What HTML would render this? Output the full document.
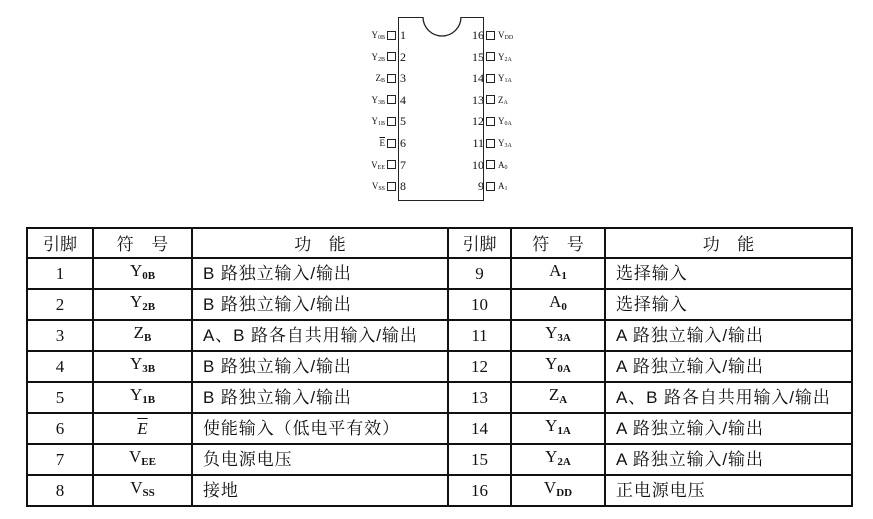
<!DOCTYPE html>
<html><head><meta charset="utf-8"><style>
body{margin:0;width:873px;height:519px;background:#fff;position:relative;overflow:hidden;font-family:"Liberation Serif","Noto Serif CJK SC",serif;color:#111}
.a{position:absolute}
.chip{left:398px;top:17px;width:86px;height:184px;border:1.3px solid #222;box-sizing:border-box}
.sq{width:9px;height:9px;border:1px solid #222;box-sizing:border-box;background:#fff}
.pn{font-size:12px;line-height:12px}
.lb{font-size:9px;line-height:10px}
.lb sub{font-size:6px;vertical-align:-1px;font-weight:normal}
table{position:absolute;left:26px;top:227px;border-collapse:collapse;font-size:17px;table-layout:fixed}
tr{height:31px}
tr.hd{height:30px}
td{border:2px solid #111;padding:0;text-align:center;line-height:18px;overflow:hidden;white-space:nowrap}
td.f{text-align:left;padding-left:10px;font-family:"Liberation Sans","Noto Serif CJK SC",serif;font-size:17px;letter-spacing:0.9px}
td.h{font-family:"Noto Serif CJK SC",serif;font-size:17px}
sub{font-size:11px;vertical-align:-3px;font-weight:bold}
</style></head><body>
<div class="a chip"></div>
<svg class="a" style="left:420px;top:15px" width="44" height="26"><path d="M3 2 A19 19 0 0 0 41 2" fill="#fff" stroke="#222" stroke-width="1.3"/><rect x="4" y="0" width="36" height="2" fill="#fff"/></svg>
<div id="pins"></div>
<script>
var L=[["Y<sub>0B</sub>",1],["Y<sub>2B</sub>",2],["Z<sub>B</sub>",3],["Y<sub>3B</sub>",4],["Y<sub>1B</sub>",5],["<span style='text-decoration:overline'>E</span>",6],["V<sub>EE</sub>",7],["V<sub>SS</sub>",8]];
var R=[["V<sub>DD</sub>",16],["Y<sub>2A</sub>",15],["Y<sub>1A</sub>",14],["Z<sub>A</sub>",13],["Y<sub>0A</sub>",12],["Y<sub>3A</sub>",11],["A<sub>0</sub>",10],["A<sub>1</sub>",9]];
var h="";
for(var i=0;i<8;i++){var y=35+i*21.6;
h+='<div class="a sq" style="left:387px;top:'+(y-4.5)+'px"></div>';
h+='<div class="a pn" style="left:400px;top:'+(y-6)+'px">'+L[i][1]+'</div>';
h+='<div class="a lb" style="right:'+(873-385)+'px;top:'+(y-5)+'px">'+L[i][0]+'</div>';
h+='<div class="a sq" style="left:486px;top:'+(y-4.5)+'px"></div>';
h+='<div class="a pn" style="right:'+(873-484)+'px;top:'+(y-6)+'px">'+R[i][1]+'</div>';
h+='<div class="a lb" style="left:498px;top:'+(y-5)+'px">'+R[i][0]+'</div>';}
document.getElementById("pins").innerHTML=h;
</script>
<table>
<colgroup><col style="width:66px"><col style="width:99px"><col style="width:256px"><col style="width:63px"><col style="width:94px"><col style="width:247px"></colgroup>
<tr class="hd"><td class="h">引脚</td><td class="h">符&nbsp;&nbsp;&nbsp;&nbsp;号</td><td class="h">功&nbsp;&nbsp;&nbsp;&nbsp;能</td><td class="h">引脚</td><td class="h">符&nbsp;&nbsp;&nbsp;&nbsp;号</td><td class="h">功&nbsp;&nbsp;&nbsp;&nbsp;能</td></tr>
<tr><td>1</td><td>Y<sub>0B</sub></td><td class="f">B 路独立输入/输出</td><td>9</td><td>A<sub>1</sub></td><td class="f">选择输入</td></tr>
<tr><td>2</td><td>Y<sub>2B</sub></td><td class="f">B 路独立输入/输出</td><td>10</td><td>A<sub>0</sub></td><td class="f">选择输入</td></tr>
<tr><td>3</td><td>Z<sub>B</sub></td><td class="f">A、B 路各自共用输入/输出</td><td>11</td><td>Y<sub>3A</sub></td><td class="f">A 路独立输入/输出</td></tr>
<tr><td>4</td><td>Y<sub>3B</sub></td><td class="f">B 路独立输入/输出</td><td>12</td><td>Y<sub>0A</sub></td><td class="f">A 路独立输入/输出</td></tr>
<tr><td>5</td><td>Y<sub>1B</sub></td><td class="f">B 路独立输入/输出</td><td>13</td><td>Z<sub>A</sub></td><td class="f">A、B 路各自共用输入/输出</td></tr>
<tr><td>6</td><td><i style="text-decoration:overline">E</i></td><td class="f">使能输入（低电平有效）</td><td>14</td><td>Y<sub>1A</sub></td><td class="f">A 路独立输入/输出</td></tr>
<tr><td>7</td><td>V<sub>EE</sub></td><td class="f">负电源电压</td><td>15</td><td>Y<sub>2A</sub></td><td class="f">A 路独立输入/输出</td></tr>
<tr><td>8</td><td>V<sub>SS</sub></td><td class="f">接地</td><td>16</td><td>V<sub>DD</sub></td><td class="f">正电源电压</td></tr>
</table>
</body></html>
